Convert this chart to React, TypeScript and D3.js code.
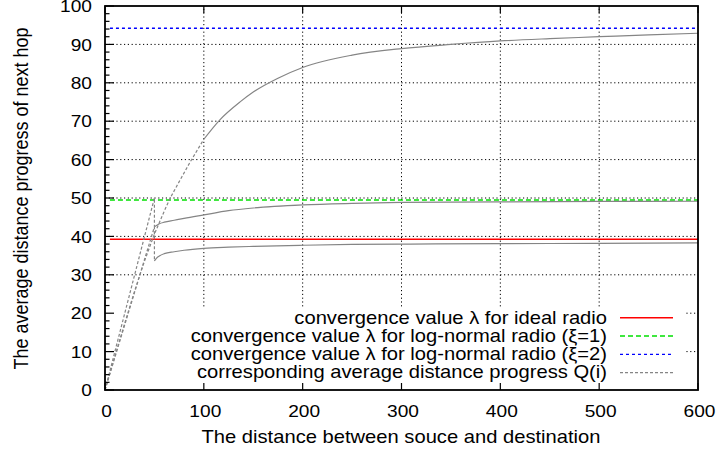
import React from "react";
import * as d3 from "d3";

// Axis ticks
const xTicks = [0, 100, 200, 300, 400, 500, 600];
const yTicks = [0, 10, 20, 30, 40, 50, 60, 70, 80, 90, 100];
const yMinorStep = 2;

// Convergence values λ (horizontal reference lines)
const lambdaIdeal = 39.24;
const lambdaLogNormal1 = 49.5;
const lambdaLogNormal2 = 94.2;
const lambdaFrom = 5;
const lambdaTo = 600;

// Average distance progress Q(i) vs. source-destination distance
const qIdeal: [number, number][] = [
  [0, 0], [50, 42.5], [50, 33.6], [52, 34.3], [55, 34.9], [60, 35.5], [70, 36.0],
  [80, 36.4], [100, 36.9], [125, 37.2], [150, 37.4], [200, 37.7], [250, 37.9],
  [300, 38.0], [400, 38.1], [500, 38.2], [600, 38.3],
];
const qLogNormal1: [number, number][] = [
  [0, 0], [50, 50], [50, 42.5], [55, 43.3], [60, 43.7], [70, 44.2], [80, 44.7],
  [100, 45.6], [125, 46.7], [150, 47.4], [200, 48.2], [250, 48.6], [300, 48.85],
  [400, 49.0], [500, 49.1], [600, 49.15],
];
const qLogNormal2: [number, number][] = [
  [0, 0], [10, 8.8], [20, 17.4], [30, 25.8], [40, 33.6], [50, 40.6], [60, 46.6],
  [66, 50], [76, 54.7], [86, 59.3], [100, 65.3], [116, 70.3], [137, 75.1],
  [150, 77.6], [175, 81.2], [200, 84.0], [250, 87.2], [300, 88.9], [350, 90.0],
  [400, 90.9], [450, 91.5], [500, 92.0], [550, 92.5], [600, 92.9],
];

const legendLabels = [
  "convergence value λ for ideal radio",
  "convergence value λ for log-normal radio (ξ=1)",
  "convergence value λ for log-normal radio (ξ=2)",
  "corresponding average distance progress Q(i)",
];

const xTitle = "The distance between souce and destination";
const yTitle = "The average distance progress of next hop";

const W = 720;
const H = 452;
const FONT = "'Liberation Sans', Arial, Helvetica, sans-serif";

const x = d3.scaleLinear().domain([0, 600]).range([105, 698]);
const y = d3.scaleLinear().domain([0, 100]).range([390, 6]);

const curveColor = "#858585";
const gridDash = "1.2,2.6";

const lineStyles = [
  { stroke: "#ff0000", dash: undefined as string | undefined, width: 1.5 },
  { stroke: "#00e000", dash: "5,3", width: 1.5 },
  { stroke: "#0000ff", dash: "3,3", width: 1.3 },
  { stroke: curveColor, dash: "3,2", width: 1.2 },
];

function SText(props: {
  x: number;
  y: number;
  anchor?: "start" | "middle" | "end";
  sx?: number;
  size?: number;
  rotate?: number;
  children: React.ReactNode;
}) {
  const { anchor = "start", sx = 1.1, rotate = 0, size = 18 } = props;
  return (
    <g transform={`translate(${props.x},${props.y}) scale(${sx},1) rotate(${rotate})`}>
      <text textAnchor={anchor} fontFamily={FONT} fontSize={size} fill="#000">
        {props.children}
      </text>
    </g>
  );
}

// A Q(i) curve: steep runs are drawn dashed and straight, flat runs solid and smooth.
function QCurve({ data }: { data: [number, number][] }) {
  const runs: { steep: boolean; pts: [number, number][] }[] = [];
  for (let i = 0; i < data.length - 1; i++) {
    const a = data[i];
    const b = data[i + 1];
    const dxp = Math.abs(x(b[0]) - x(a[0]));
    const dyp = Math.abs(y(b[1]) - y(a[1]));
    const steep = dyp > 1.5 * dxp;
    const last = runs[runs.length - 1];
    if (last && last.steep === steep) last.pts.push(b);
    else runs.push({ steep, pts: [a, b] });
  }
  const linear = d3
    .line<[number, number]>()
    .x((d) => x(d[0]))
    .y((d) => y(d[1]));
  const smooth = d3
    .line<[number, number]>()
    .x((d) => x(d[0]))
    .y((d) => y(d[1]))
    .curve(d3.curveMonotoneX);
  return (
    <g fill="none" stroke={curveColor} strokeWidth={1.2}>
      {runs.map((r, i) => (
        <path
          key={i}
          d={(r.steep ? linear(r.pts) : smooth(r.pts)) || ""}
          strokeDasharray={r.steep ? "3,2" : undefined}
        />
      ))}
    </g>
  );
}

export default function App() {
  const [x0, x1] = x.range();
  const [y0, y1] = y.range();
  const minor = d3.range(0, 100 + 1e-9, yMinorStep).filter((v) => v % 10 !== 0);
  const legendBaselines = [323.5, 341.8, 360.1, 378.4];
  const lambdas = [lambdaIdeal, lambdaLogNormal1, lambdaLogNormal2];

  return (
    <svg
      width={W}
      height={H}
      viewBox={`0 0 ${W} ${H}`}
      style={{ position: "absolute", left: 0, top: 0, background: "#fff" }}
    >
      <rect x={0} y={0} width={W} height={H} fill="#fff" />

      {/* grid */}
      <g stroke="#000" strokeWidth={1} strokeDasharray={gridDash}>
        {yTicks.slice(1, -1).map((v) => (
          <line key={"gy" + v} x1={x0} x2={x1} y1={y(v)} y2={y(v)} />
        ))}
        {xTicks.slice(1, -1).map((v) => (
          <line key={"gx" + v} x1={x(v)} x2={x(v)} y1={y0} y2={y1} />
        ))}
      </g>

      {/* legend background */}
      <rect x={x0} y={308} width={686 - x0} height={y0 - 308} fill="#fff" />

      {/* convergence lines */}
      {lambdas.map((v, i) => (
        <line
          key={"lam" + i}
          x1={x(lambdaFrom)}
          x2={x(lambdaTo)}
          y1={y(v)}
          y2={y(v)}
          stroke={lineStyles[i].stroke}
          strokeWidth={lineStyles[i].width}
          strokeDasharray={lineStyles[i].dash}
        />
      ))}

      {/* Q(i) curves */}
      <QCurve data={qIdeal} />
      <QCurve data={qLogNormal1} />
      <QCurve data={qLogNormal2} />

      {/* legend */}
      {legendLabels.map((label, i) => (
        <g key={"leg" + i}>
          <SText x={607} y={legendBaselines[i]} anchor="end" sx={1.12}>
            {label}
          </SText>
          <line
            x1={620}
            x2={673}
            y1={legendBaselines[i] - 5.8}
            y2={legendBaselines[i] - 5.8}
            stroke={lineStyles[i].stroke}
            strokeWidth={lineStyles[i].width}
            strokeDasharray={lineStyles[i].dash}
          />
        </g>
      ))}

      {/* ticks */}
      <g stroke="#000" strokeWidth={1.2}>
        {yTicks.map((v) => (
          <line key={"ty" + v} x1={x0} x2={x0 + 9} y1={y(v)} y2={y(v)} />
        ))}
        {minor.map((v) => (
          <line key={"tm" + v} x1={x0} x2={x0 + 4.5} y1={y(v)} y2={y(v)} />
        ))}
        {xTicks.map((v) => (
          <g key={"tx" + v}>
            <line x1={x(v)} x2={x(v)} y1={y0} y2={y0 - 7} />
            <line x1={x(v)} x2={x(v)} y1={y1} y2={y1 + 7} />
          </g>
        ))}
      </g>

      {/* frame */}
      <rect
        x={x0}
        y={y1}
        width={x1 - x0}
        height={y0 - y1}
        fill="none"
        stroke="#000"
        strokeWidth={1.8}
      />

      {/* tick labels */}
      {yTicks.map((v) => (
        <SText key={"ly" + v} x={92} y={y(v) + 6.2} anchor="end" size={16.5} sx={1.16}>
          {v}
        </SText>
      ))}
      {xTicks.map((v) => (
        <SText key={"lx" + v} x={x(v) + 1.5} y={416.5} anchor="middle" size={16.5} sx={1.16}>
          {v}
        </SText>
      ))}

      {/* axis titles */}
      <SText x={401} y={443} anchor="middle" sx={1.12}>
        {xTitle}
      </SText>
      <SText x={28} y={198.5} anchor="middle" rotate={-90}>
        {yTitle}
      </SText>
    </svg>
  );
}
